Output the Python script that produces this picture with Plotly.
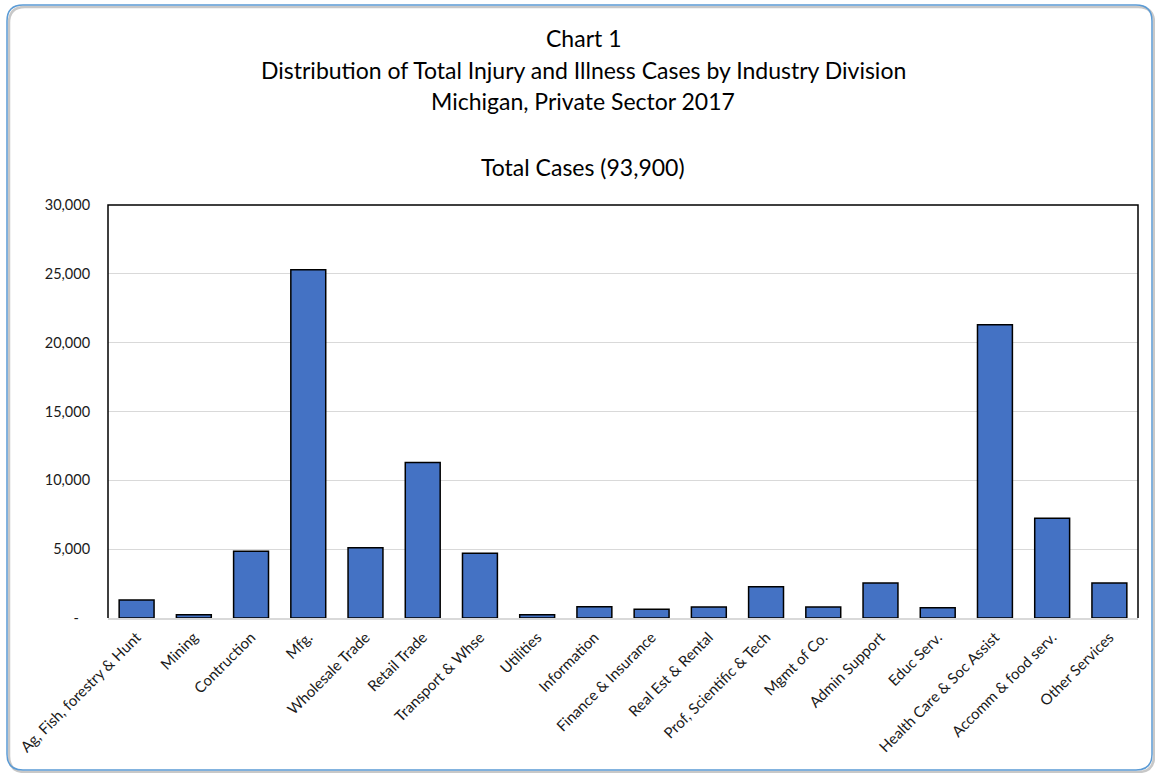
import plotly.graph_objects as go

categories = ["Ag, Fish, forestry & Hunt", "Mining", "Contruction", "Mfg.", "Wholesale Trade",
              "Retail Trade", "Transport & Whse", "Utilities", "Information", "Finance & Insurance",
              "Real Est & Rental", "Prof, Scientific & Tech", "Mgmt of Co.", "Admin Support",
              "Educ Serv.", "Health Care & Soc Assist", "Accomm & food serv.", "Other Services"]
cases = [1300, 240, 4850, 25300, 5100, 11300, 4700, 240, 820, 630,
         800, 2270, 800, 2540, 750, 21300, 7250, 2540]
tick_vals = [0, 5000, 10000, 15000, 20000, 25000, 30000]
tick_text = ["-\u00a0\u00a0\u00a0", "5,000", "10,000", "15,000", "20,000", "25,000", "30,000"]
title_lines = ["Chart 1", "Distribution of Total Injury and Illness Cases by Industry Division",
               "Michigan, Private Sector 2017"]
subtitle = "Total Cases (93,900)"

W, H = 1155, 773
L, R, T, B = 108, 1138, 205, 618
pw, ph = R - L, B - T

def px(x):
    return (x - L) / pw

def py(y):
    return (B - y) / ph

fig = go.Figure(go.Bar(
    x=categories, y=cases,
    marker=dict(color="#4472C4", line=dict(color="black", width=1.5)),
))

font = "Lato, Calibri, Carlito, sans-serif"

fig.update_layout(
    width=W, height=H,
    margin=dict(l=L, r=W - R, t=T, b=H - B),
    paper_bgcolor="white", plot_bgcolor="white",
    bargap=0.39, showlegend=False,
    font=dict(family=font, color="#000000"),
)
fig.update_xaxes(
    tickangle=-45, tickfont=dict(size=15, color="#1a1a1a"),
    showline=True, linecolor="#d9d9d9", linewidth=1.5,
    showgrid=False, ticks="outside", ticklen=3, tickcolor="rgba(0,0,0,0)",
    fixedrange=True,
)
fig.update_yaxes(
    range=[0, 30000], tickvals=tick_vals, ticktext=tick_text,
    tickfont=dict(size=14.5, color="#1a1a1a"),
    showgrid=True, gridcolor="#d9d9d9", gridwidth=1,
    zeroline=False, showline=False,
    ticks="outside", ticklen=14, tickcolor="rgba(0,0,0,0)",
)

# plot area frame (left, top, right)
fig.add_shape(type="path", xref="paper", yref="paper",
              path="M 0,0 L 0,1 L 1,1 L 1,0", line=dict(color="black", width=1.5))

# rounded outer border
def rounded(x0, y0, x1, y1, r):
    pts = [
        f"M {px(x0 + r)},{py(y0)}",
        f"L {px(x1 - r)},{py(y0)}",
        f"Q {px(x1)},{py(y0)} {px(x1)},{py(y0 + r)}",
        f"L {px(x1)},{py(y1 - r)}",
        f"Q {px(x1)},{py(y1)} {px(x1 - r)},{py(y1)}",
        f"L {px(x0 + r)},{py(y1)}",
        f"Q {px(x0)},{py(y1)} {px(x0)},{py(y1 - r)}",
        f"L {px(x0)},{py(y0 + r)}",
        f"Q {px(x0)},{py(y0)} {px(x0 + r)},{py(y0)}",
        "Z",
    ]
    return " ".join(pts)

fig.add_shape(type="path", xref="paper", yref="paper", layer="below",
              path=rounded(9, 7, 1154, 772, 16), line=dict(color="#c8c8c8", width=2.5))
fig.add_shape(type="path", xref="paper", yref="paper",
              path=rounded(7, 5, 1152, 770, 16), line=dict(color="#5B9BD5", width=1.5))

cx = px(583)
for text, y in zip(title_lines, [38, 70, 101]):
    fig.add_annotation(text=text, x=cx, y=py(y), xref="paper", yref="paper",
                       showarrow=False, xanchor="center", yanchor="middle",
                       font=dict(size=23, color="#000000", family=font))
fig.add_annotation(text=subtitle, x=cx, y=py(167), xref="paper", yref="paper",
                   showarrow=False, xanchor="center", yanchor="middle",
                   font=dict(size=23, color="#000000", family=font))

fig.write_html("out.html", config={"displayModeBar": False},
               post_script="document.body.style.margin='0';document.body.style.overflow='hidden';")
